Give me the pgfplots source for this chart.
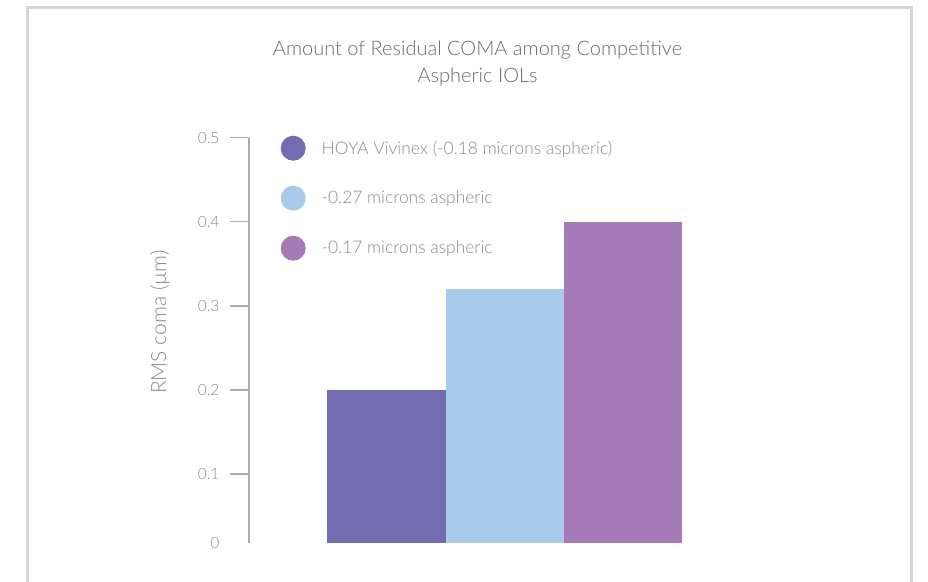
\documentclass[border=0pt]{standalone}
\usepackage{fontspec}
\IfFontExistsTF{Lato Light}{\setmainfont{Lato Light}}{\setmainfont{Lato}}
\usepackage{pgfplots}
\pgfplotsset{compat=1.18}
\definecolor{c1}{HTML}{736CB0}
\definecolor{c2}{HTML}{A8CBEB}
\definecolor{c3}{HTML}{A57AB7}
\definecolor{axgray}{HTML}{ABABAB}
\definecolor{txgray}{HTML}{8A8A8A}
\definecolor{titlegray}{HTML}{6A6A6A}
\definecolor{framegray}{HTML}{D6D6D6}
\begin{document}
\begin{tikzpicture}[x=1pt,y=1pt]
\useasboundingbox[fill=white] (0,0) rectangle (928,581);
\begin{axis}[
  at={(249pt,38pt)}, anchor=south west, scale only axis,
  width=471pt, height=405.3pt,
  xmin=-1.165, xmax=2.826, ymin=0.018, ymax=0.5,
  axis x line=none, axis y line=left,
  y axis line style={-},
  axis line style={axgray, line width=1.4pt},
  ytick={0.1,0.2,0.3,0.4,0.5},
  extra y ticks={0.018}, extra y tick labels={0},
  extra y tick style={tick style={draw=none}},
  tick align=outside, major tick length=19pt,
  tick style={axgray, line width=1.4pt},
  /pgf/number format/assume math mode=true,
  yticklabel style={/pgf/number format/fixed, /pgf/number format/precision=1,
    font=\fontsize{15.5}{15.5}\selectfont, text=txgray, xshift=-7pt},
  ylabel={RMS coma (µm)},
  ylabel style={at={(axis description cs:-0.189,0.545)}, anchor=center,
    font=\fontsize{21}{21}\selectfont, text=txgray},
  ybar, bar width=1, bar shift=0pt,
  legend style={at={(axis description cs:0.0669,1.0054)}, anchor=north west,
    draw=none, fill=none, inner sep=0pt, row sep=25pt, column sep=14pt,
    font=\fontsize{17.4}{20}\selectfont, text=txgray, cells={anchor=west}},
]
\addplot[fill=c1, draw=none, legend image code/.code={\fill[c1] (12.5pt,0pt) circle (12.5pt);}] coordinates {(0,0.20)};
\addlegendentry{HOYA Vivinex (-0.18 microns aspheric)}
\addplot[fill=c2, draw=none, legend image code/.code={\fill[c2] (12.5pt,0pt) circle (12.5pt);}] coordinates {(1,0.32)};
\addlegendentry{-0.27 microns aspheric}
\addplot[fill=c3, draw=none, legend image code/.code={\fill[c3] (12.5pt,0pt) circle (12.5pt);}] coordinates {(2,0.40)};
\addlegendentry{-0.17 microns aspheric}
\end{axis}
\draw[framegray, line width=3pt] (27,-5) -- (27,573) -- (911,573) -- (911,-5);
\node[align=center, font=\fontsize{20}{27}\selectfont, text=titlegray] at (477.5,517.5) {Amount of Residual COMA among Competitive\\Aspheric IOLs};
\end{tikzpicture}
\end{document}
